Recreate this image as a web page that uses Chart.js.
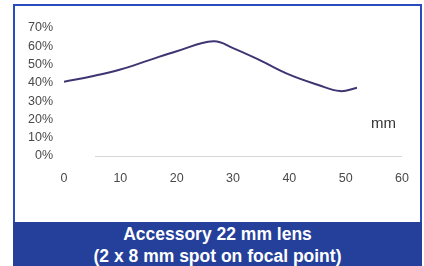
<!DOCTYPE html>
<html>
<head>
<meta charset="utf-8">
<script src="https://cdn.jsdelivr.net/npm/chart.js@4/dist/chart.umd.min.js"></script>
<style>
  html, body { margin: 0; padding: 0; background: #fff; }
  #wrap { position: relative; width: 424px; height: 266px; overflow: hidden; font-family: 'Liberation Sans', Arial, sans-serif; }
  #chart { position: absolute; left: 0; top: 0; }
  #frame { position: absolute; left: 13px; top: 4px; width: 405px; height: 216px; border: 2px solid #2b4cbf; border-bottom: none; pointer-events: none; }
  #unit { position: absolute; left: 371px; top: 114px; font-size: 15px; color: #333; }
  #banner { position: absolute; left: 13px; top: 222px; width: 409px; height: 44px; background: #24409a; color: #fff; font-weight: bold; font-size: 17.5px; line-height: 22px; text-align: center; padding-top: 1px; box-sizing: border-box; }
</style>
</head>
<body>
<div id="wrap">
  <canvas id="chart" width="424" height="222"></canvas>
  <div id="frame"></div>
  <div id="unit">mm</div>
  <div id="banner">Accessory 22 mm lens<br>(2 x 8 mm spot on focal point)</div>
</div>
<script>
// distance from lens (mm) and relative output (%)
const distances = [0, 5, 10, 15, 20, 26.5, 30, 35, 40, 45, 49, 52];
const outputPct = [40.6, 43.6, 47.3, 52.3, 57.3, 62.7, 59, 52, 44.5, 39, 35.5, 37.3];
const xTicks = [0, 10, 20, 30, 40, 50, 60];
const yTicks = [0, 10, 20, 30, 40, 50, 60, 70];

const tickFont = { family: "'Liberation Sans', Arial, sans-serif", size: 12.5 };

// faint baseline at 0%, starting a bit right of the origin like the original
const baselinePlugin = {
  id: 'baseline',
  beforeDatasetsDraw(chart) {
    const { ctx, scales } = chart;
    const y = scales.y.getPixelForValue(0);
    ctx.save();
    ctx.strokeStyle = '#d6d6d6';
    ctx.lineWidth = 1;
    ctx.beginPath();
    ctx.moveTo(scales.x.getPixelForValue(5.5), y + 0.5);
    ctx.lineTo(scales.x.getPixelForValue(60), y + 0.5);
    ctx.stroke();
    ctx.restore();
  }
};

new Chart(document.getElementById('chart'), {
  type: 'line',
  data: {
    datasets: [{
      data: distances.map((d, i) => ({ x: d, y: outputPct[i] })),
      borderColor: '#3f3572',
      borderWidth: 2,
      pointRadius: 0,
      tension: 0.4,
      fill: false
    }]
  },
  options: {
    responsive: false,
    animation: false,
    layout: { padding: { top: 28, right: 20, left: 0, bottom: 0 } },
    plugins: { legend: { display: false }, tooltip: { enabled: false } },
    scales: {
      x: {
        type: 'linear',
        min: 0,
        max: 60,
        afterBuildTicks: scale => { scale.ticks = xTicks.map(v => ({ value: v })); },
        afterFit: scale => { scale.height = 66; },
        grid: { display: false, drawTicks: false },
        border: { display: false },
        ticks: { color: '#4a4a4a', font: tickFont, padding: 15, maxRotation: 0 }
      },
      y: {
        min: 0,
        max: 70,
        afterBuildTicks: scale => { scale.ticks = yTicks.map(v => ({ value: v })); },
        afterFit: scale => { scale.width = 64; },
        grid: { display: false, drawTicks: false },
        border: { display: false },
        ticks: { color: '#4a4a4a', font: tickFont, padding: 11, callback: v => v + '%' }
      }
    }
  },
  plugins: [baselinePlugin]
});
</script>
</body>
</html>
